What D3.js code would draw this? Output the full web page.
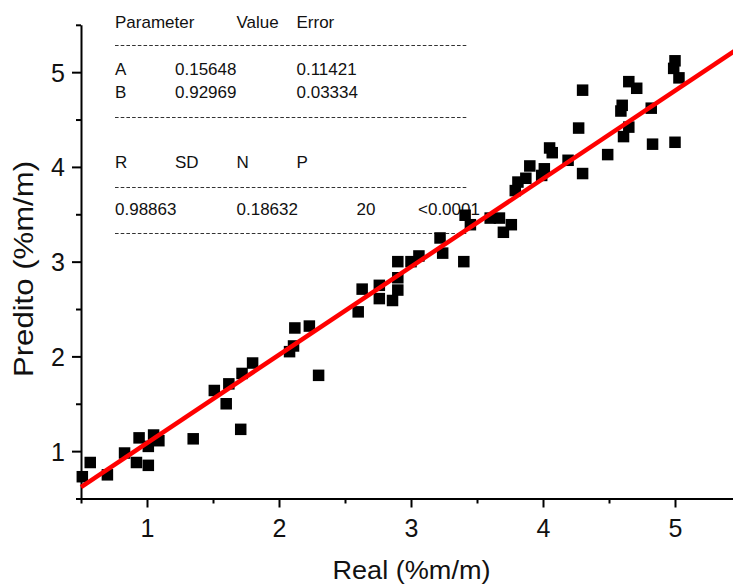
<!DOCTYPE html>
<html>
<head>
<meta charset="utf-8">
<script src="https://cdn.jsdelivr.net/npm/d3@7"></script>
<style>
  html, body { margin: 0; padding: 0; background: #fff; }
  svg { display: block; font-family: "Liberation Sans", Arial, sans-serif; }
</style>
</head>
<body>
<svg id="chart" width="733" height="586"></svg>
<script>
// ---- Data ----
const realValues = [0.51,0.57,0.70,0.83,0.94,0.92,1.05,1.01,1.09,1.01,1.35,1.51,1.62,1.60,1.71,1.72,1.80,
  2.12,2.23,2.11,2.08,2.30,2.60,2.63,2.76,2.76,2.86,2.90,2.90,2.90,3.00,3.06,3.22,3.24,3.40,3.41,3.45,
  3.60,3.67,3.70,3.76,3.79,3.81,3.87,3.90,3.99,4.01,4.05,4.07,4.19,4.30,4.27,4.30,4.49,4.60,4.59,4.65,
  4.71,4.65,4.61,4.82,4.83,5.00,4.99,5.03,5.00];
const preditoValues = [0.73,0.88,0.75,0.98,1.14,0.88,1.17,1.05,1.11,0.85,1.13,1.64,1.71,1.50,1.23,1.82,1.93,
  2.30,2.32,2.11,2.05,1.80,2.47,2.71,2.61,2.75,2.59,2.70,2.83,3.00,3.00,3.06,3.25,3.09,3.00,3.49,3.39,
  3.46,3.46,3.31,3.39,3.75,3.84,3.88,4.01,3.91,3.98,4.20,4.15,4.07,3.93,4.41,4.81,4.13,4.65,4.59,4.90,
  4.83,4.42,4.32,4.62,4.24,5.12,5.04,4.94,4.26];
const fitA = 0.15648;   // intercept
const fitB = 0.92969;   // slope
const majorTicks = [1, 2, 3, 4, 5];
const minorTicks = [0.5, 1.5, 2.5, 3.5, 4.5, 5.5];
const tableHeader1 = ["Parameter", "Value", "Error"];
const tableRowA = ["A", "0.15648", "0.11421"];
const tableRowB = ["B", "0.92969", "0.03334"];
const tableHeader2 = ["R", "SD", "N", "P"];
const tableRowStats = ["0.98863", "0.18632", "20", "<0.0001"];
const xTitle = "Real (%m/m)";
const yTitle = "Predito (%m/m)";

// ---- Layout ----
const svg = d3.select("#chart");
const x = d3.scaleLinear().domain([0.5, 5.5]).range([81, 741]);
const y = d3.scaleLinear().domain([0.5, 5.5]).range([498.5, 24.8]);

// ---- Table (drawn first, points overlap it) ----
const tbl = svg.append("g").attr("font-size", 17).attr("fill", "#111");
function row(vals, xs, base) {
  vals.forEach((v, i) => tbl.append("text").attr("x", xs[i]).attr("y", base).text(v));
}
row(tableHeader1, [115, 236.5, 296.5], 28);
row(tableRowA, [115, 175, 296.5], 75);
row(tableRowB, [115, 175, 296.5], 98);
row(tableHeader2, [115, 175, 236.5, 296.5], 168);
row(tableRowStats, [115, 236.5, 356.5, 418], 215);
[45, 117, 187, 233].forEach(yy => {
  tbl.append("line").attr("x1", 115).attr("x2", 468).attr("y1", yy + 0.5).attr("y2", yy + 0.5)
    .attr("stroke", "#333").attr("stroke-width", 1).attr("stroke-dasharray", "3.6,2.1");
});

// ---- Axes ----
function styleAxis(g) {
  g.selectAll("path.domain").attr("stroke", "#000").attr("stroke-width", 2);
  g.selectAll(".tick line").attr("stroke", "#000").attr("stroke-width", 2);
}
const xMinor = svg.append("g").attr("transform", `translate(0,${y(0.5)})`)
  .call(d3.axisBottom(x).tickValues(minorTicks).tickSize(5).tickSizeOuter(0).tickFormat(""));
const xMajor = svg.append("g").attr("transform", `translate(0,${y(0.5)})`)
  .call(d3.axisBottom(x).tickValues(majorTicks).tickSize(9).tickSizeOuter(0).tickFormat(d3.format("d")));
xMajor.selectAll(".tick text").attr("font-size", 25).attr("fill", "#111")
  .attr("font-family", "Liberation Sans, Arial, sans-serif").attr("dy", null).attr("y", 38)
  .attr("dominant-baseline", "auto");
styleAxis(xMinor); styleAxis(xMajor);

const yMinor = svg.append("g").attr("transform", `translate(${x(0.5)},0)`)
  .call(d3.axisLeft(y).tickValues(minorTicks).tickSize(5).tickSizeOuter(0).tickFormat(""));
const yMajor = svg.append("g").attr("transform", `translate(${x(0.5)},0)`)
  .call(d3.axisLeft(y).tickValues(majorTicks).tickSize(9).tickSizeOuter(0).tickFormat(d3.format("d")));
yMajor.selectAll(".tick text").attr("font-size", 25).attr("fill", "#111")
  .attr("font-family", "Liberation Sans, Arial, sans-serif").attr("x", -16).attr("dy", "0.36em");
styleAxis(yMinor); styleAxis(yMajor);
yMajor.select("path.domain").remove();
xMajor.select("path.domain").remove();

// ---- Titles ----
svg.append("text").attr("x", 411.5).attr("y", 579).attr("text-anchor", "middle")
  .attr("font-size", 25).attr("fill", "#111")
  .attr("textLength", 158).attr("lengthAdjust", "spacingAndGlyphs").text(xTitle);
svg.append("text").attr("transform", "translate(33,269) rotate(-90)").attr("text-anchor", "middle")
  .attr("font-size", 27).attr("fill", "#111")
  .attr("textLength", 216).attr("lengthAdjust", "spacingAndGlyphs").text(yTitle);

// ---- Points ----
const pts = realValues.map((v, i) => ({ r: v, p: preditoValues[i] }));
const s = 11.5;
svg.append("g").selectAll("rect").data(pts).join("rect")
  .attr("x", d => x(d.r) - s / 2).attr("y", d => y(d.p) - s / 2)
  .attr("width", s).attr("height", s).attr("fill", "#000");

// ---- Fit line ----
const fitLine = d3.line().x(d => x(d)).y(d => y(fitA + fitB * d));
svg.append("path").datum([0.5, 5.5]).attr("d", fitLine)
  .attr("stroke", "#ff0000").attr("stroke-width", 4.5).attr("fill", "none");
</script>
</body>
</html>
